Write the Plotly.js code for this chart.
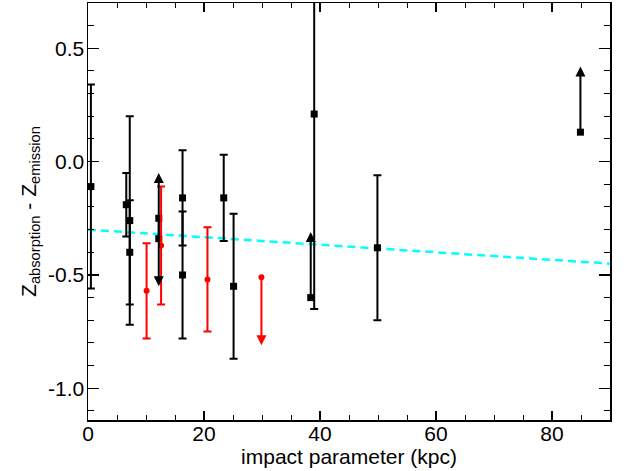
<!DOCTYPE html>
<html>
<head>
<meta charset="utf-8">
<script src="https://cdn.plot.ly/plotly-3.0.1.min.js"></script>
<style>html,body{margin:0;padding:0;background:#fff}#chart{width:624px;height:471px}</style>
</head>
<body>
<div id="chart"></div>
<script>
// Black measurements with symmetric errors
var xBlack = [0.5, 6.6, 7.2, 7.2, 16.3, 16.3, 23.4, 25.1, 39.0, 49.9];
var yBlack = [-0.11, -0.19, -0.26, -0.40, -0.16, -0.50, -0.16, -0.55, 0.21, -0.38];
var errBlack = [0.45, 0.14, 0.46, 0.23, 0.21, 0.28, 0.19, 0.32, 0.86, 0.32];

// Black limits (point value and arrow tip)
var xBlackLim = [12.2, 12.2, 38.4, 84.9];
var yBlackLim = [-0.34, -0.25, -0.60, 0.13];
var tipBlackLim = [-0.05, -0.55, -0.31, 0.42];

// Red measurements
var xRed = [10.1, 12.6, 20.6];
var yRed = [-0.57, -0.37, -0.52];
var errRed = [0.21, 0.26, 0.23];

// Red limits
var xRedLim = [29.9];
var yRedLim = [-0.51];
var tipRedLim = [-0.81];

// Linear fit
var xFit = [0, 90];
var yFit = [-0.30, -0.45];

var xTicks = [0, 20, 40, 60, 80];
var yTicks = [-1.0, -0.5, 0.0, 0.5];
var yTickText = ['-1.0', '-0.5', '0.0', '0.5'];

var FONT = 'Liberation Sans, Arial, sans-serif';

var traces = [
  {
    x: xFit, y: yFit, mode: 'lines', type: 'scatter',
    line: {color: '#00ffff', width: 2.5, dash: '8px,5px'},
    hoverinfo: 'skip', showlegend: false
  },
  {
    x: xBlack, y: yBlack, mode: 'markers', type: 'scatter',
    marker: {symbol: 'square', size: 7, color: '#000'},
    error_y: {type: 'data', array: errBlack, visible: true, color: '#000', thickness: 2, width: 4},
    showlegend: false, cliponaxis: false
  },
  {
    x: xBlackLim, y: yBlackLim, mode: 'markers', type: 'scatter',
    marker: {symbol: 'square', size: 7, color: '#000'},
    showlegend: false
  },
  {
    x: xRed, y: yRed, mode: 'markers', type: 'scatter',
    marker: {symbol: 'circle', size: 6, color: '#ff0000'},
    error_y: {type: 'data', array: errRed, visible: true, color: '#ff0000', thickness: 2, width: 4},
    showlegend: false
  },
  {
    x: xRedLim, y: yRedLim, mode: 'markers', type: 'scatter',
    marker: {symbol: 'circle', size: 6, color: '#ff0000'},
    showlegend: false
  }
];

var annotations = [];
function addArrows(xs, ys, tips, color) {
  for (var i = 0; i < xs.length; i++) {
    annotations.push({
      x: xs[i], y: tips[i], xref: 'x', yref: 'y',
      ax: xs[i], ay: ys[i], axref: 'x', ayref: 'y',
      text: '', showarrow: true, arrowhead: 2, arrowsize: 1,
      arrowwidth: 2, arrowcolor: color, standoff: 0, startstandoff: 0
    });
  }
}
addArrows(xBlackLim, yBlackLim, tipBlackLim, '#000');
addArrows(xRedLim, yRedLim, tipRedLim, '#ff0000');

var layout = {
  width: 624, height: 471,
  margin: {l: 88, r: 14, t: 3, b: 51},
  paper_bgcolor: '#fff', plot_bgcolor: '#fff',
  font: {family: FONT, size: 21, color: '#000'},
  showlegend: false,
  xaxis: {
    range: [0, 90], tickvals: xTicks, ticks: 'inside', ticklen: 9, tickwidth: 1.5,
    tickcolor: '#000', showline: true, linecolor: '#000', linewidth: 1.5, mirror: 'ticks',
    showgrid: false, zeroline: false, ticklabelstandoff: -6,
    minor: {dtick: 5, ticks: 'inside', ticklen: 5, tickwidth: 1, tickcolor: '#000'},
    tickfont: {family: FONT, size: 21},
    title: {text: 'impact parameter (kpc)', font: {family: FONT, size: 21}, standoff: 0}
  },
  yaxis: {
    range: [-1.14, 0.7], tickvals: yTicks, ticktext: yTickText, ticks: 'inside', ticklen: 11, tickwidth: 1.5,
    tickcolor: '#000', showline: true, linecolor: '#000', linewidth: 1.5, mirror: 'ticks',
    showgrid: false, zeroline: false, ticklabelstandoff: -2,
    minor: {dtick: 0.1, ticks: 'inside', ticklen: 6, tickwidth: 1, tickcolor: '#000'},
    tickfont: {family: FONT, size: 21},
    title: {text: 'Z<sub>absorption</sub> - Z<sub>emission</sub>', font: {family: FONT, size: 21}, standoff: 6}
  },
  annotations: annotations
};

Plotly.newPlot('chart', traces, layout, {displayModeBar: false, staticPlot: true});
</script>
</body>
</html>
